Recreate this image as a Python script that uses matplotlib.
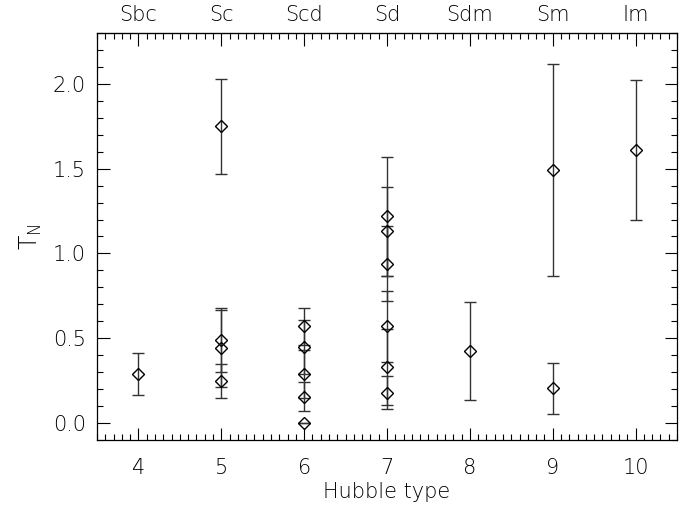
import matplotlib
matplotlib.use("Agg")
import matplotlib.pyplot as plt
from matplotlib.ticker import MultipleLocator, FixedLocator

plt.rcParams['font.family'] = ['DejaVu Sans']
plt.rcParams['font.weight'] = 'light'
plt.rcParams['axes.labelweight'] = 'light'
plt.rcParams['mathtext.default'] = 'regular'

hubble_x = [4, 5, 5, 5, 5, 6, 6, 6, 6, 6, 7, 7, 7, 7, 7, 7, 8, 9, 9, 10]
tn_vals = [0.29, 1.75, 0.49, 0.44, 0.25, 0.57, 0.45, 0.29, 0.155, 0.0,
           1.22, 1.13, 0.94, 0.57, 0.33, 0.18, 0.425, 1.49, 0.205, 1.61]
tn_errs = [0.125, 0.28, 0.19, 0.225, 0.10, 0.11, 0.16, 0.14, 0.085, 0.0,
           0.35, 0.26, 0.22, 0.21, 0.225, 0.10, 0.29, 0.625, 0.15, 0.41]

type_ticks = [4, 5, 6, 7, 8, 9, 10]
type_names = ['Sbc', 'Sc', 'Scd', 'Sd', 'Sdm', 'Sm', 'Im']

fig = plt.figure(figsize=(6.85, 5.12), dpi=100)
ax = fig.add_axes([97/685, 1-440/512, (677-97)/685, (440-33)/512])

ax.errorbar(hubble_x, tn_vals, yerr=tn_errs, fmt='none', ecolor='#333333',
            elinewidth=1.0, capsize=4.3, capthick=1.0)
ax.plot(hubble_x, tn_vals, linestyle='none', marker='D', markersize=6,
        markerfacecolor='none', markeredgecolor='black', markeredgewidth=1.0)

ax.set_xlim(3.5, 10.5)
ax.set_ylim(-0.1, 2.3)

fs = 15
ax.xaxis.set_major_locator(FixedLocator(type_ticks))
ax.xaxis.set_minor_locator(MultipleLocator(0.1))
ax.yaxis.set_major_locator(MultipleLocator(0.5))
ax.yaxis.set_minor_locator(MultipleLocator(0.1))
ax.set_xticklabels([str(v) for v in type_ticks])
ax.yaxis.set_major_formatter(matplotlib.ticker.FormatStrFormatter('%.1f'))
ax.tick_params(which='both', direction='in', top=False, right=True,
               labelsize=fs, colors='black', width=0.8)
ax.tick_params(which='major', length=9, pad=13)
ax.tick_params(which='minor', length=4)
ax.tick_params(axis='y', which='major', pad=8)

secx = ax.secondary_xaxis('top')
secx.xaxis.set_major_locator(FixedLocator(type_ticks))
secx.xaxis.set_minor_locator(MultipleLocator(0.1))
secx.set_xticklabels(type_names)
secx.tick_params(which='both', direction='in', labelsize=fs, width=0.8)
secx.tick_params(which='major', length=9, pad=6)
secx.tick_params(which='minor', length=4)

for sp in ax.spines.values():
    sp.set_linewidth(0.9)

ax.set_xlabel('Hubble type', fontsize=fs, fontweight='light', labelpad=3)
ax.set_ylabel(r'$T_N$', fontsize=fs + 2, fontweight='light', labelpad=6)

fig.savefig('out.png', dpi=100)
